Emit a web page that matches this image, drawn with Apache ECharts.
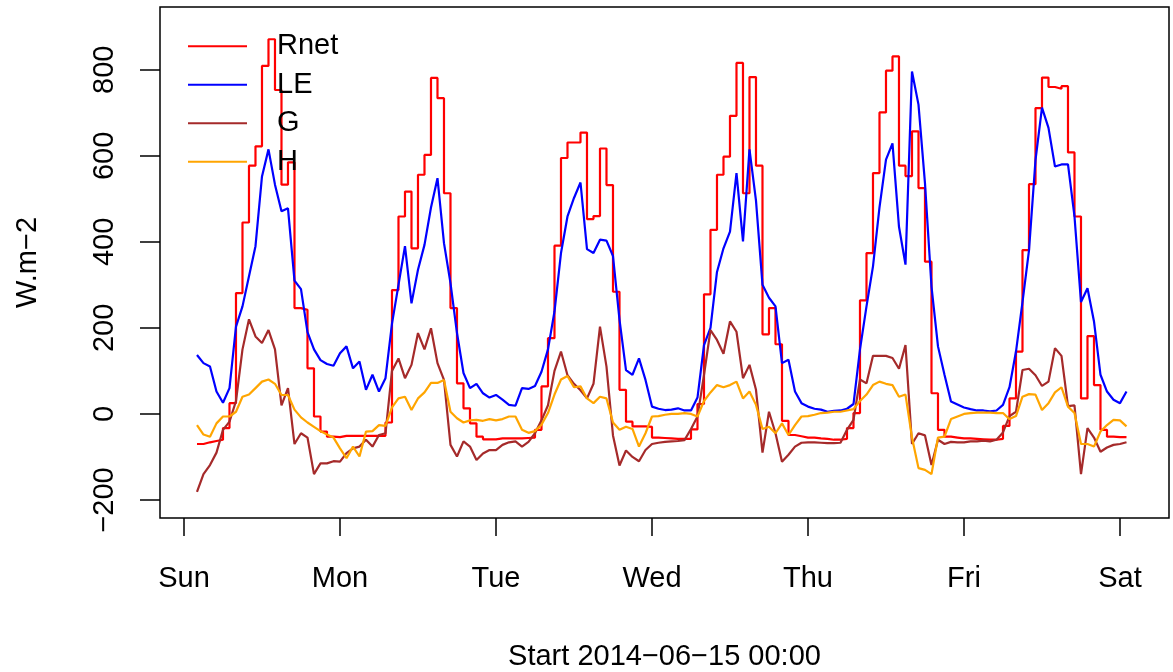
<!DOCTYPE html>
<html style="height: 100%">
<head>
    <meta charset="utf-8">
</head>
<body style="height: 100%; margin: 0">
<div id="container" style="width: 1173px; height: 672px"></div>
<script type="text/javascript" src="https://cdn.jsdelivr.net/npm/echarts@6/dist/echarts.min.js"></script>
<script type="text/javascript">
// hourly readings, first one at Sun 02:00 (hours counted from 2014-06-15 00:00)
var firstHour = 2;
var dayTicks = [0, 24, 48, 72, 96, 120, 144];
var dayNames = ['Sun', 'Mon', 'Tue', 'Wed', 'Thu', 'Fri', 'Sat'];
var yTicks = [-200, 0, 200, 400, 600, 800];
var seriesNames = ['Rnet', 'LE', 'G', 'H'];

var rnet = [
    -70, -66, -63, -60, -33, 25, 281, 445, 577, 622, 809, 871, 753, 533, 585, 246, 242, 106, -6, -41, -53, -54,
    -51, -51, -51, -51, -51, -51, -51, -20, 288, 459, 517, 385, 556, 602, 781, 734, 513, 246, 71, 13, -22, -53, -59, -59,
    -57, -57, -57, -57, -56, -55, -37, 64, 176, 391, 595, 631, 631, 654, 453, 460, 617, 532, 284, 56, -18, -29, -29, -30,
    -55, -56, -57, -58, -58, -58, -36, 23, 278, 428, 556, 598, 693, 816, 513, 783, 577, 185, 246, 162, -16, -49, -52, -55,
    -55, -57, -58, -60, -60, -58, -33, 2, 264, 374, 560, 701, 798, 831, 577, 553, 657, 525, 354, 48, -37, -53, -55, -57,
    -57, -58, -59, -60, -60, -58, -28, 36, 145, 381, 534, 711, 782, 760, 756, 762, 608, 459, 36, 181, 67, -37, -53, -54, -54, -54
];
var le = [
    137, 118, 110, 52, 26, 60, 203, 250, 320, 390, 552, 615, 533, 471, 478, 310, 290, 190, 150, 125, 116, 112,
    141, 157, 106, 122, 56, 91, 52, 83, 210, 300, 390, 257, 335, 393, 480, 548, 397, 304, 188, 95, 60, 70, 48, 38,
    44, 33, 21, 19, 60, 58, 65, 98, 150, 238, 374, 459, 502, 538, 383, 374, 405, 403, 367, 219, 102, 91, 129, 79,
    17, 12, 9, 10, 13, 8, 8, 38, 160, 200, 330, 385, 424, 560, 401, 615, 496, 300, 270, 250, 118, 126, 52, 25,
    17, 12, 10, 5, 7, 8, 12, 23, 150, 250, 343, 480, 591, 629, 435, 347, 796, 719, 536, 296, 157, 91, 29, 22,
    15, 11, 8, 8, 6, 8, 21, 62, 145, 260, 380, 590, 712, 665, 575, 580, 580, 459, 260, 292, 215, 91, 52, 33, 25, 52
];
var g = [
    -181, -140, -119, -90, -37, -18, 30, 150, 220, 180, 165, 195, 150, 20, 60, -70, -45, -55, -140, -115, -115, -110,
    -111, -91, -80, -76, -60, -76, -49, -45, 100, 129, 83, 114, 188, 150, 199, 118, 79, -72, -99, -64, -76, -107, -92, -84,
    -84, -72, -66, -64, -76, -65, -45, -15, 20, 100, 145, 90, 70, 55, 36, 70, 203, 110, -50, -120, -85, -100, -110, -84,
    -70, -67, -65, -64, -63, -61, -35, -6, 90, 195, 172, 140, 215, 191, 83, 114, 56, -90, 5, -45, -111, -95, -76, -67,
    -66, -66, -67, -68, -68, -67, -37, -14, 80, 71, 135, 135, 135, 130, 105, 160, -70, -45, -50, -119, -60, -70, -65, -66,
    -66, -64, -64, -62, -64, -60, -43, -5, 5, 102, 105, 90, 65, 75, 153, 135, 18, 20, -140, -33, -55, -88, -78, -72, -70, -66
];
var h = [
    -26, -48, -53, -22, -6, -6, 5, 40, 45, 60, 75, 80, 70, 44, 44, 10, -8, -20, -30, -40, -48, -55,
    -80, -103, -76, -99, -41, -40, -26, -28, 15, 36, 40, 9, 36, 50, 72, 72, 79, 5, -10, -20, -15, -14, -16, -12,
    -15, -12, -6, -6, -37, -44, -40, -25, 2, 45, 80, 88, 62, 64, 36, 25, 40, 36, -20, -37, -30, -35, -76, -45,
    -6, -5, -2, 0, 0, 2, 0, -6, 30, 50, 67, 62, 67, 75, 36, 52, 21, -35, -30, -45, -22, -49, -26, -6,
    -5, -2, 2, 3, 5, 5, 8, 11, 30, 45, 67, 75, 70, 67, 40, 45, -55, -126, -130, -140, -55, -53, -12, -6,
    0, 2, 3, 3, 3, 2, 2, -12, -5, 40, 46, 45, 9, 25, 50, 62, 17, 2, -70, -70, -76, -41, -26, -14, -15, -29
];

var font = 'Liberation Sans, Arial, Helvetica, sans-serif';
var colors = ['#ff0000', '#0000ff', '#a52a2a', '#ffa500'];

function pairs(vals) {
    return vals.map(function (v, i) { return [firstHour + i, v]; });
}
function minus(v) {
    return String(v).replace('-', '\u2212');
}

var dom = document.getElementById('container');
var myChart = echarts.init(dom, null, {renderer: 'canvas'});

var series = [rnet, le, g, h].map(function (vals, i) {
    return {
        name: seriesNames[i],
        type: 'line',
        data: pairs(vals),
        step: i === 0 ? 'end' : false,
        showSymbol: false,
        symbol: 'none',
        color: colors[i],
        lineStyle: {width: 2.2, color: colors[i]},
        emphasis: {disabled: true},
        z: 2 + i
    };
});

var option = {
    animation: false,
    backgroundColor: '#ffffff',
    textStyle: {fontFamily: font},
    grid: {
        left: 160, top: 7, width: 1009, height: 511,
        outerBoundsMode: 'none',
        show: true, borderColor: '#000', borderWidth: 1.5, backgroundColor: 'transparent'
    },
    legend: {
        orient: 'vertical',
        left: 188, top: 27,
        padding: 0,
        itemGap: 0,
        itemWidth: 59, itemHeight: 2,
        icon: 'rect',
        selectedMode: false,
        data: seriesNames,
        textStyle: {fontFamily: font, fontSize: 29, color: '#000', lineHeight: 38.5, padding: [0, 0, 0, 25]}
    },
    xAxis: {
        type: 'value',
        min: -3.69, max: 151.54,
        name: 'Start 2014\u221206\u221215 00:00',
        nameLocation: 'middle',
        nameGap: 124,
        nameTextStyle: {fontFamily: font, fontSize: 29, color: '#000'},
        axisLine: {show: false, onZero: false},
        axisTick: {show: true, length: 18, lineStyle: {color: '#000', width: 1.5}, customValues: dayTicks},
        axisLabel: {
            customValues: dayTicks,
            margin: 46,
            fontFamily: font, fontSize: 29, color: '#000',
            formatter: function (v) { return dayNames[Math.round(v / 24)]; }
        },
        splitLine: {show: false}
    },
    yAxis: {
        type: 'value',
        min: -242, max: 946,
        name: 'W.m\u22122',
        nameLocation: 'middle',
        nameGap: 118,
        nameRotate: 90,
        nameTextStyle: {fontFamily: font, fontSize: 29, color: '#000'},
        axisLine: {show: false, onZero: false},
        axisTick: {show: true, length: 20, lineStyle: {color: '#000', width: 1.5}, customValues: yTicks},
        axisLabel: {
            customValues: yTicks,
            rotate: 90,
            margin: 41,
            fontFamily: font, fontSize: 29, color: '#000',
            formatter: minus
        },
        splitLine: {show: false}
    },
    series: series
};

myChart.setOption(option);
</script>
</body>
</html>
